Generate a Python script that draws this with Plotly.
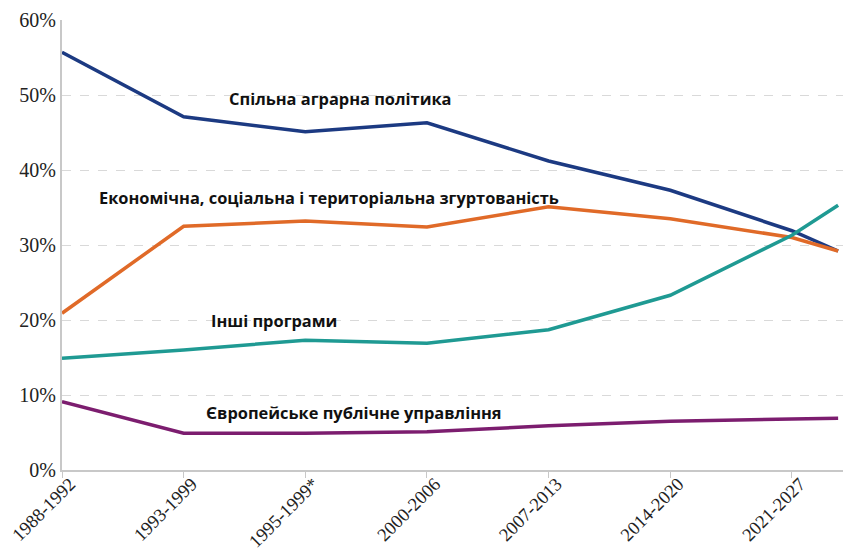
import plotly.graph_objects as go

# --- Data ---
periods = ["1988-1992", "1993-1999", "1995-1999*", "2000-2006",
           "2007-2013", "2014-2020", "2021-2027"]
x_pos = [0, 1, 2, 3, 4, 5, 6, 6.38]   # last point runs past the final tick

cap = [55.7, 47.1, 45.1, 46.3, 41.2, 37.3, 31.9, 29.2]
cohesion = [20.9, 32.5, 33.2, 32.4, 35.1, 33.5, 31.0, 29.2]
other = [14.9, 16.0, 17.3, 16.9, 18.7, 23.3, 31.3, 35.3]
admin = [9.1, 4.9, 4.9, 5.1, 5.9, 6.5, 6.8, 6.9]

y_ticks = [0, 10, 20, 30, 40, 50, 60]
y_labels = [f"{v}%" for v in y_ticks]

series = [
    ("Спільна аграрна політика", cap, "#1c3a82"),
    ("Економічна, соціальна і територіальна згуртованість", cohesion, "#e06a28"),
    ("Інші програми", other, "#1f9a93"),
    ("Європейське публічне управління", admin, "#7c1d6f"),
]

fig = go.Figure()
for name, vals, color in series:
    fig.add_trace(go.Scatter(
        x=x_pos, y=vals, mode="lines", name=name,
        line=dict(color=color, width=3.5), showlegend=False,
    ))

# Inline labels: (text, x, y)
labels = [
    ("Спільна аграрна політика", 1.36, 49.5),
    ("Економічна, соціальна і територіальна згуртованість", 0.29, 36.4),
    ("Інші програми", 1.21, 19.9),
    ("Європейське публічне управління", 1.17, 7.7),
]
annotations = [dict(
    x=x, y=y, text=f"<b>{t}</b>", showarrow=False, xanchor="left", yanchor="middle",
    font=dict(family="Open Sans", size=16.4, color="#111111"),
) for t, x, y in labels]

fig.update_layout(
    width=843, height=549,
    margin=dict(l=62, r=0, t=20, b=79),
    paper_bgcolor="white", plot_bgcolor="white",
    xaxis=dict(
        range=[0, 6.42], tickmode="array", tickvals=list(range(len(periods))),
        ticktext=periods, tickangle=-45, showgrid=False, zeroline=False,
        showline=True, linecolor="#c8c8c8", linewidth=2, automargin=False,
        ticks="outside", ticklen=6, tickcolor="#c8c8c8",
        ticklabelshift=8, ticklabelstandoff=-12,
        tickfont=dict(family="Liberation Serif", size=18.5, color="#222222"),
    ),
    yaxis=dict(
        range=[0, 60], tickmode="array", tickvals=y_ticks, ticktext=y_labels,
        showgrid=True, gridcolor="#d9d9d9", griddash="dash", gridwidth=1,
        zeroline=False, showline=True, linecolor="#c8c8c8", linewidth=2,
        automargin=False, ticks="",
        tickfont=dict(family="Liberation Serif", size=20, color="#222222"),
    ),
    annotations=annotations,
)

# drop the browser's default body margin so the figure sits at the page corner
fig.write_html("out.html", config={"displayModeBar": False},
               post_script="document.body.style.margin='0';")
